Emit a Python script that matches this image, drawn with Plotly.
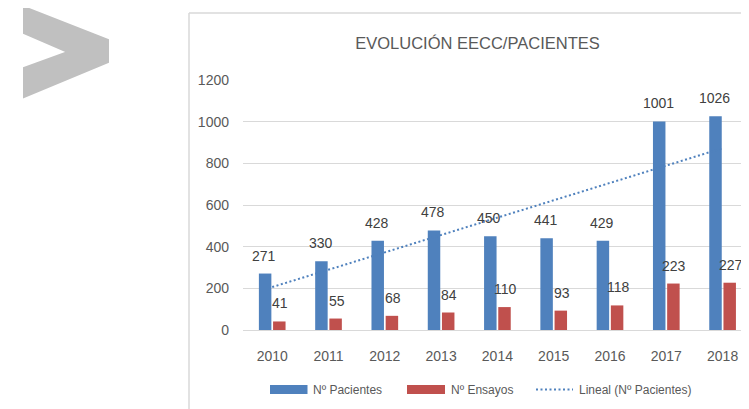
import numpy as np
import plotly.graph_objects as go

# ---------------- data ----------------
years = ["2010", "2011", "2012", "2013", "2014", "2015", "2016", "2017", "2018"]
pacientes = [271, 330, 428, 478, 450, 441, 429, 1001, 1026]
ensayos = [41, 55, 68, 84, 110, 93, 118, 223, 227]
y_ticks = [0, 200, 400, 600, 800, 1000, 1200]
series_names = ["Nº Pacientes", "Nº Ensayos", "Lineal (Nº Pacientes)"]
title_text = "EVOLUCIÓN EECC/PACIENTES"

# linear trend of Nº Pacientes (Excel "Lineal" trendline)
idx = np.arange(len(years))
slope, intercept = np.polyfit(idx, pacientes, 1)
trend = intercept + slope * idx

# ---------------- style ----------------
BLUE = "#4F81BD"
RED = "#C0504D"
GRID = "#D9D9D9"
TXT = "#595959"
LBL = "#404040"
FONT = "Liberation Sans, Arial, sans-serif"
DOT = "2px,2.5px"

OFF = 8  # page body margin
W, H = 749 - OFF, 409 - OFF
L, T = 243 - OFF, 80 - OFF
R = 0
B = H - (330 - OFF)
PW, PH = W - L - R, H - T - B


def pp(x, y):
    """reference-window pixel -> paper coordinates"""
    return ((x - OFF) - L) / PW, ((H - B) - (y - OFF)) / PH


fig = go.Figure()

fig.add_trace(go.Bar(x=years, y=pacientes, name=series_names[0], marker=dict(color=BLUE, line=dict(width=0))))
fig.add_trace(go.Bar(x=years, y=ensayos, name=series_names[1], marker=dict(color=RED, line=dict(width=0))))
fig.add_trace(go.Scatter(x=years, y=trend, mode="lines", name=series_names[2],
                         line=dict(color=BLUE, width=2, dash=DOT)))

# data labels
for i in range(len(years)):
    fig.add_annotation(x=i, y=pacientes[i], text=str(pacientes[i]), showarrow=False,
                       xshift=-8, yshift=18, font=dict(family=FONT, size=14, color=LBL))
    fig.add_annotation(x=i, y=ensayos[i], text=str(ensayos[i]), showarrow=False,
                       xshift=8, yshift=18, font=dict(family=FONT, size=14, color=LBL))

# ---- Excel-style legend (swatch + label) ----
LEG_Y = 389.5
legend_layout = [  # (swatch start px, swatch end px, label start px)
    (270, 307.5, 311.7),
    (407, 445, 450),
    (536, 573, 578.3),
]
legend_styles = [("rect", BLUE), ("rect", RED), ("dot", BLUE)]
for name, (sx0, sx1, tx0), (kind, col) in zip(series_names, legend_layout, legend_styles):
    if kind == "rect":
        a, b = pp(sx0, LEG_Y - 4.5)
        c, d = pp(sx1, LEG_Y + 4.5)
        fig.add_shape(type="rect", xref="paper", yref="paper", x0=a, y0=d, x1=c, y1=b,
                      fillcolor=col, line=dict(width=0))
    else:
        a, b = pp(sx0, LEG_Y)
        c, _ = pp(sx1, LEG_Y)
        fig.add_shape(type="line", xref="paper", yref="paper", x0=a, y0=b, x1=c, y1=b,
                      line=dict(color=col, width=2, dash=DOT))
    ax_, ay_ = pp(tx0, LEG_Y)
    fig.add_annotation(x=ax_, y=ay_, xref="paper", yref="paper", text=name, showarrow=False,
                       xanchor="left", yanchor="middle", borderpad=0,
                       font=dict(family=FONT, size=12, color=TXT))

# chart frame (light border)
x0, y0 = pp(189, 13)
x1, y1 = pp(770, 430)
fig.add_shape(type="line", xref="paper", yref="paper", x0=x0, y0=y0, x1=x0, y1=y1,
              line=dict(color=GRID, width=1.5))
fig.add_shape(type="line", xref="paper", yref="paper", x0=x0, y0=y0, x1=x1, y1=y0,
              line=dict(color=GRID, width=1.5))

# grey chevron decoration
chev = [(24, 7), (24, 33), (68, 52), (24, 68), (24, 97), (108, 62), (108, 40)]
path = "M " + " L ".join("%.5f,%.5f" % pp(px, py) for px, py in chev) + " Z"
fig.add_shape(type="path", xref="paper", yref="paper", path=path, fillcolor="#C0C0C0",
              line=dict(color="#C0C0C0", width=2))

tx, _ = pp(477.5, 0)
fig.update_layout(
    width=W, height=H,
    margin=dict(l=L, r=R, t=T, b=B, pad=0),
    paper_bgcolor="white", plot_bgcolor="white",
    barmode="group", bargap=0.496, bargroupgap=0.12,
    showlegend=False,
    title=dict(text=title_text, x=tx, xref="paper", xanchor="center",
               y=1 - (43 - OFF) / H, yref="container", yanchor="middle",
               font=dict(family=FONT, size=16.5, color=TXT)),
    xaxis=dict(type="category", range=[-0.519, 8.469], showgrid=False, showline=False, zeroline=False,
               ticks="", tickfont=dict(family=FONT, size=14, color=TXT), ticklabelstandoff=16),
    yaxis=dict(range=[0, 1200], tickvals=y_ticks, showgrid=True, gridcolor=GRID, gridwidth=1,
               zeroline=True, zerolinecolor=GRID, zerolinewidth=1, showline=False, ticks="",
               tickfont=dict(family=FONT, size=14, color=TXT), ticklabelstandoff=13),
)

fig.write_html("out.html")
